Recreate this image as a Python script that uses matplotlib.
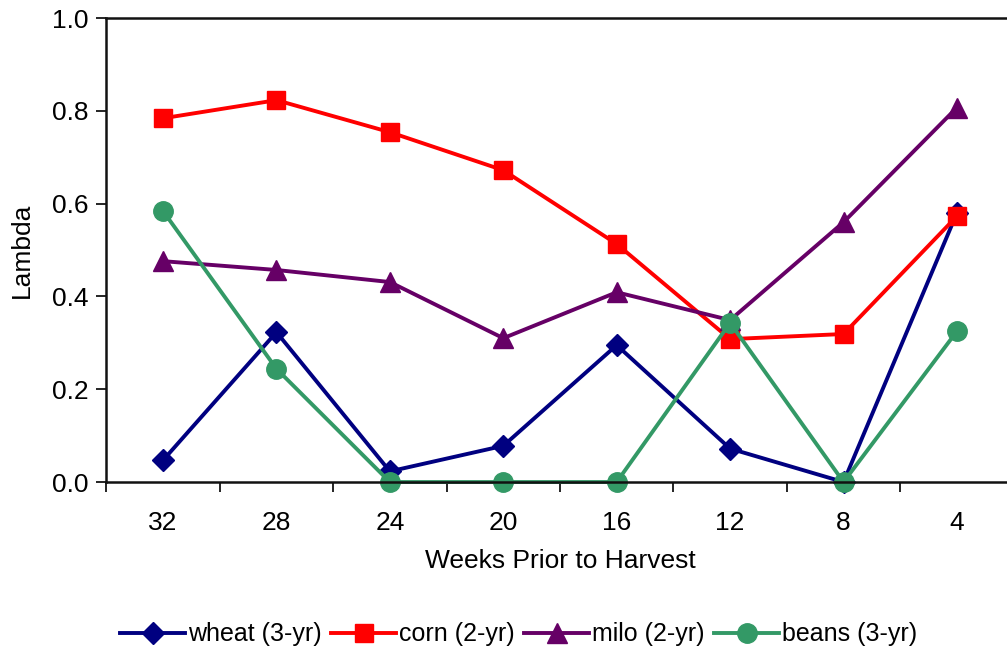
import numpy as np
import matplotlib
matplotlib.use("Agg")
import matplotlib.pyplot as plt

plt.rcParams['font.family'] = ['Liberation Sans', 'DejaVu Sans']

weeks = ["32", "28", "24", "20", "16", "12", "8", "4"]
wheat = [0.047, 0.323, 0.023, 0.078, 0.295, 0.072, 0.0, 0.58]
corn = [0.784, 0.823, 0.754, 0.672, 0.513, 0.308, 0.319, 0.573]
milo = [0.476, 0.457, 0.431, 0.310, 0.409, 0.349, 0.560, 0.807]
beans = [0.584, 0.244, 0.0, 0.0, 0.0, 0.343, 0.0, 0.325]

fig = plt.figure(figsize=(10.07, 6.56), dpi=100)
# plot area runs past the right edge of the picture, like the original
ax = fig.add_axes([0.1056, 0.2652, 0.901, 0.7073])

x = np.arange(len(weeks))
ax.plot(x, wheat, color="#000080", lw=2.8, marker="D", ms=11, label="wheat (3-yr)", clip_on=False)
ax.plot(x, corn, color="#FF0000", lw=2.8, marker="s", ms=13, label="corn (2-yr)", clip_on=False)
ax.plot(x, milo, color="#660066", lw=2.8, marker="^", ms=14, label="milo (2-yr)", clip_on=False)
ax.plot(x, beans, color="#339966", lw=2.8, marker="o", ms=14, label="beans (3-yr)", clip_on=False)

ax.set_xlim(-0.5, len(weeks) - 0.5)
ax.set_ylim(0, 1.0)
ax.set_yticks(np.arange(0, 1.01, 0.2))
ax.set_yticklabels([f"{v:.1f}" for v in np.arange(0, 1.01, 0.2)])
ax.set_xticks(x)
ax.set_xticklabels(weeks)
ax.set_xticks(np.arange(-0.5, len(weeks), 1), minor=True)
ax.tick_params(axis="x", which="major", length=0, pad=21, labelsize=19)
ax.tick_params(axis="x", which="minor", length=7, width=1.2, direction="out")
ax.tick_params(axis="y", length=7, width=1.2, labelsize=19, pad=6)

for s in ax.spines.values():
    s.set_linewidth(1.8)
    s.set_color("#111111")

ax.set_xlabel("Weeks Prior to Harvest", fontsize=19, labelpad=10)
ax.set_ylabel("Lambda", fontsize=19, labelpad=13)

fig.legend(loc="center", bbox_to_anchor=(0.515, 0.033), ncol=4, frameon=False,
           fontsize=18, handlelength=2.6, handletextpad=0.1, columnspacing=0.4)

fig.savefig("out.png", dpi=100)
